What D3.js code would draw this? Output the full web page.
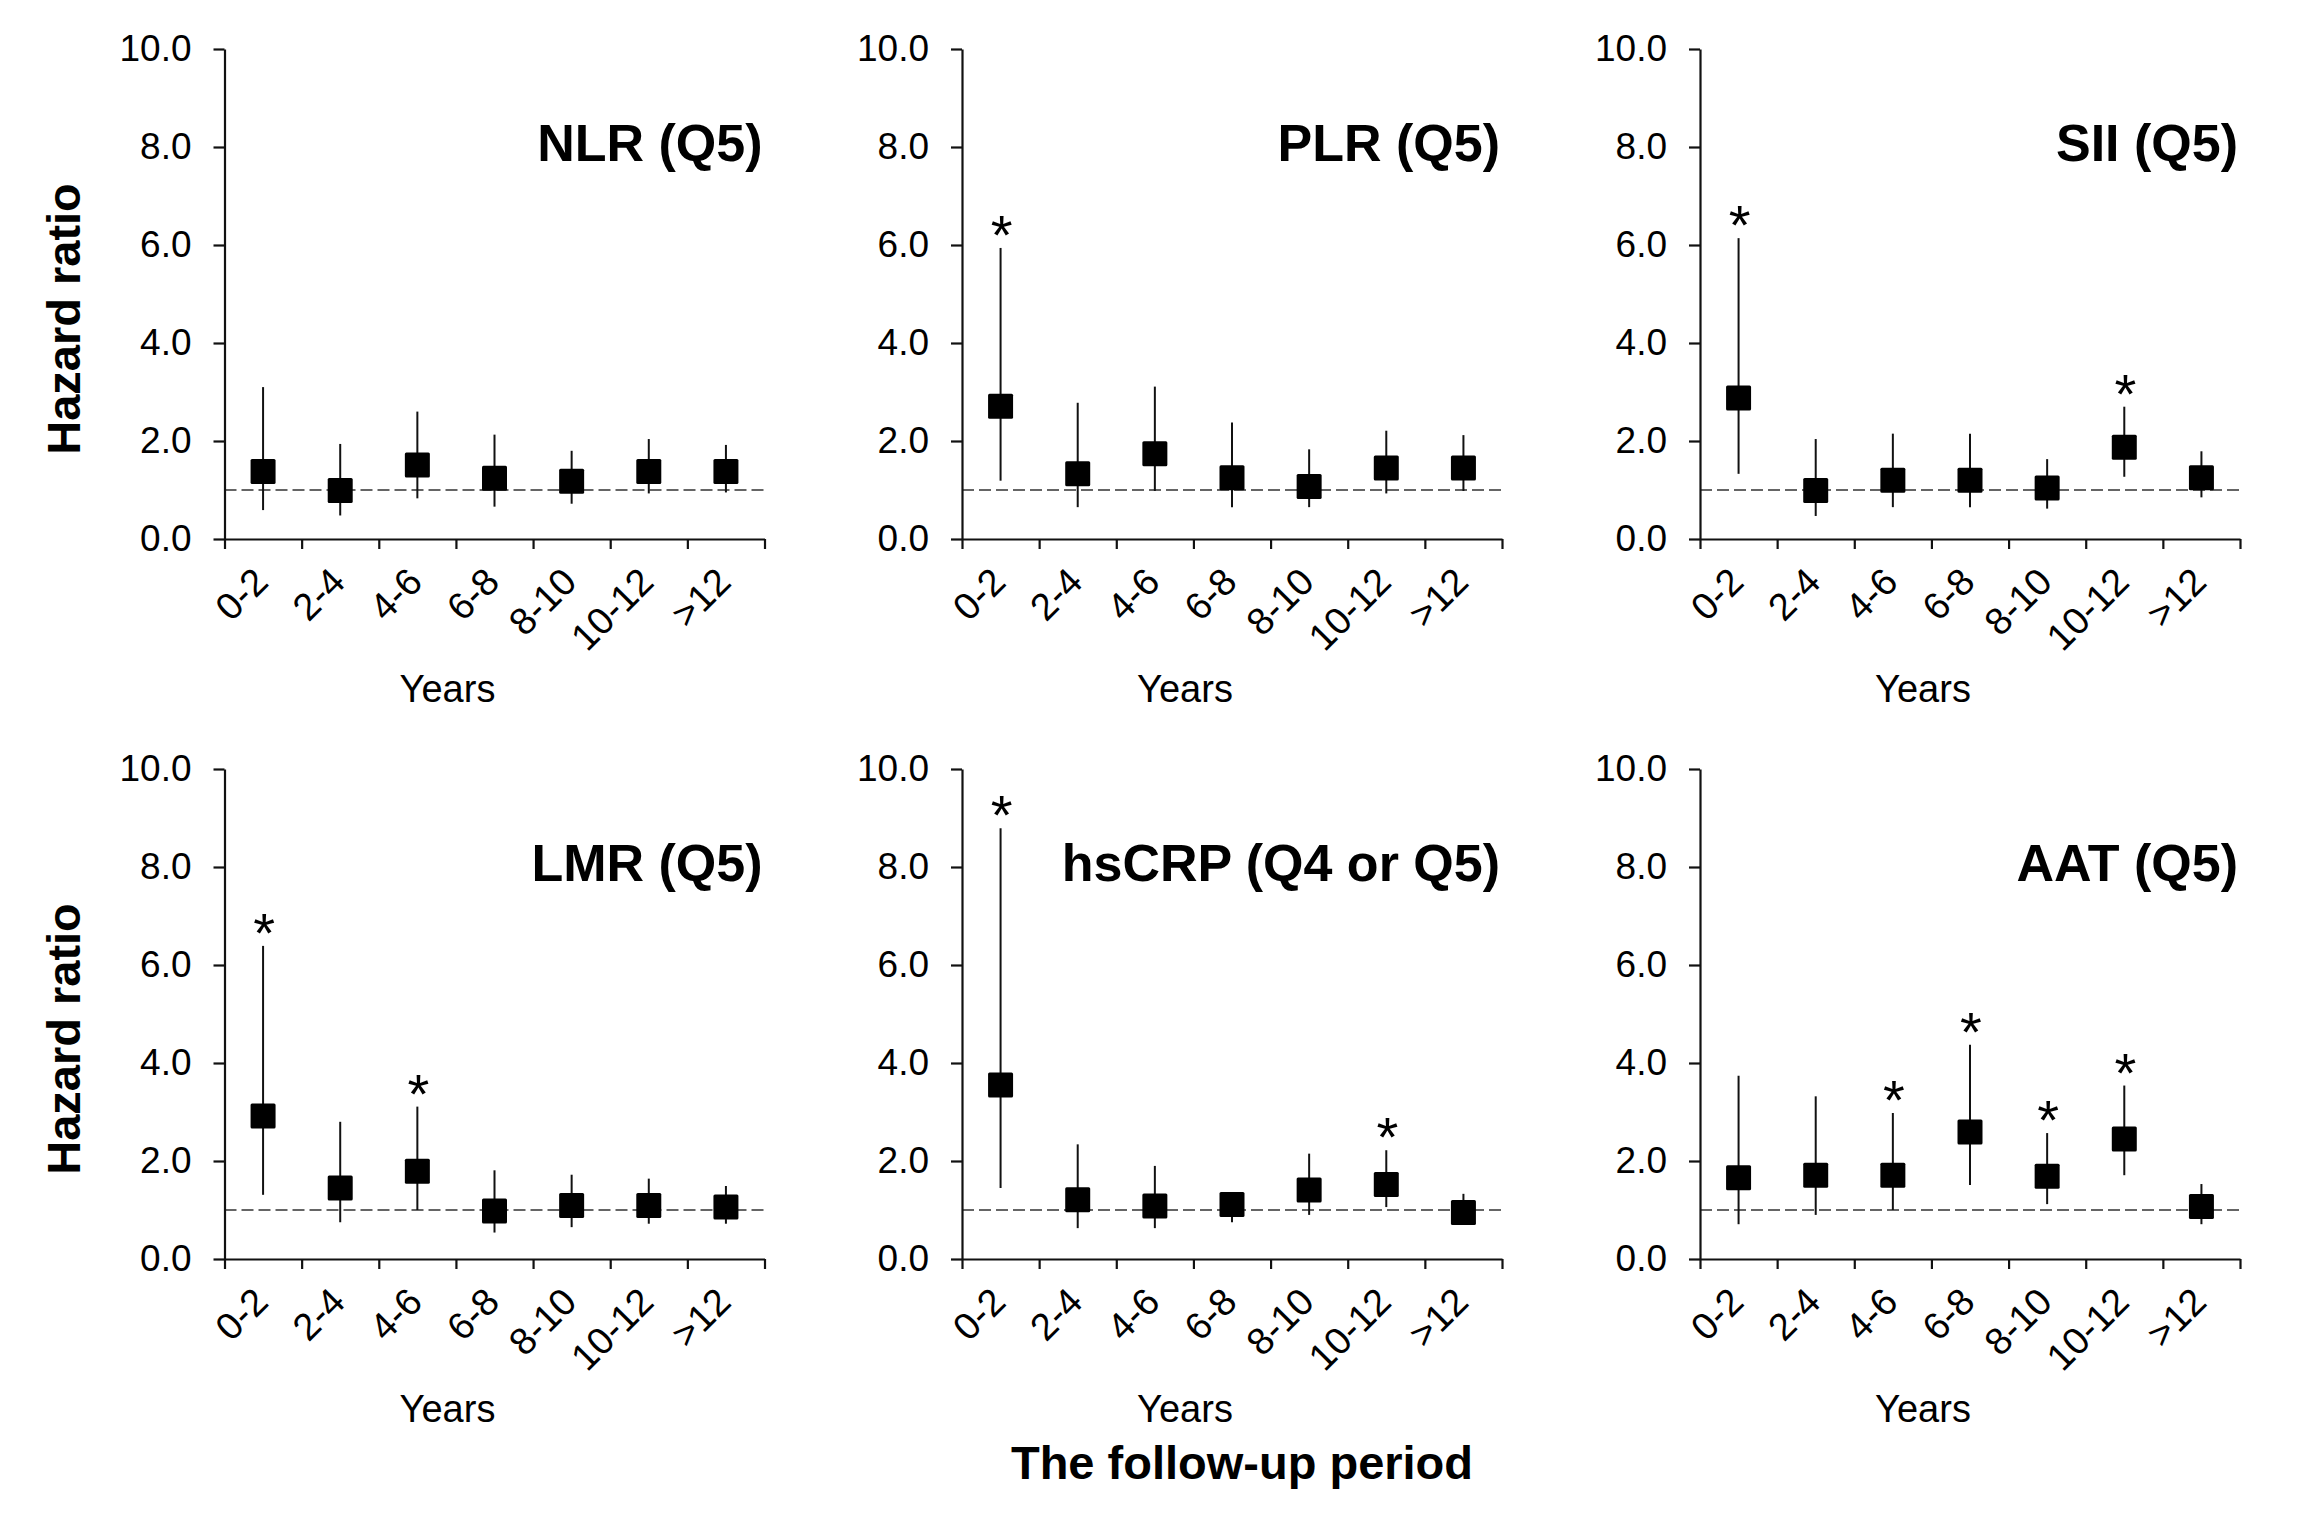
<!DOCTYPE html>
<html>
<head>
<meta charset="utf-8">
<script src="https://cdn.jsdelivr.net/npm/d3@7"></script>
<style>
  html, body { margin: 0; padding: 0; background: #fff; }
  svg { display: block; }
</style>
</head>
<body>
<div id="chart"></div>
<script>
// Hazard ratios by follow-up period, one panel per marker
const years = ["0-2", "2-4", "4-6", "6-8", "8-10", "10-12", ">12"];
const yTicks = [0, 2, 4, 6, 8, 10];

const panelTitles = ["NLR (Q5)", "PLR (Q5)", "SII (Q5)", "LMR (Q5)", "hsCRP (Q4 or Q5)", "AAT (Q5)"];

const nlrHR    = [1.38, 0.99, 1.51, 1.24, 1.18, 1.38, 1.38];
const nlrLow   = [0.59, 0.48, 0.83, 0.66, 0.72, 0.93, 0.95];
const nlrHigh  = [3.10, 1.94, 2.60, 2.13, 1.80, 2.04, 1.92];
const nlrSig   = [0, 0, 0, 0, 0, 0, 0];

const plrHR    = [2.71, 1.33, 1.74, 1.25, 1.07, 1.45, 1.45];
const plrLow   = [1.19, 0.65, 0.98, 0.65, 0.65, 0.93, 0.98];
const plrHigh  = [5.94, 2.78, 3.11, 2.38, 1.83, 2.21, 2.12];
const plrSig   = [1, 0, 0, 0, 0, 0, 0];

const siiHR    = [2.88, 0.99, 1.20, 1.20, 1.04, 1.87, 1.25];
const siiLow   = [1.33, 0.47, 0.65, 0.65, 0.62, 1.27, 0.85];
const siiHigh  = [6.14, 2.04, 2.15, 2.15, 1.63, 2.70, 1.79];
const siiSig   = [1, 0, 0, 0, 0, 1, 0];

const lmrHR    = [2.92, 1.45, 1.79, 0.98, 1.09, 1.09, 1.06];
const lmrLow   = [1.31, 0.75, 1.00, 0.54, 0.65, 0.72, 0.72];
const lmrHigh  = [6.39, 2.80, 3.11, 1.81, 1.72, 1.64, 1.49];
const lmrSig   = [1, 0, 1, 0, 0, 0, 0];

const crpHR    = [3.55, 1.21, 1.08, 1.11, 1.41, 1.52, 0.95];
const crpLow   = [1.45, 0.63, 0.63, 0.75, 0.90, 1.06, 0.70];
const crpHigh  = [8.79, 2.34, 1.90, 1.30, 2.15, 2.22, 1.33];
const crpSig   = [1, 0, 0, 0, 0, 1, 0];

const aatHR    = [1.66, 1.71, 1.71, 2.59, 1.69, 2.45, 1.07];
const aatLow   = [0.71, 0.90, 1.00, 1.51, 1.12, 1.71, 0.71];
const aatHigh  = [3.74, 3.32, 2.98, 4.37, 2.57, 3.54, 1.53];
const aatSig   = [0, 0, 1, 1, 1, 1, 0];

const panelData = [
    [nlrHR, nlrLow, nlrHigh, nlrSig],
    [plrHR, plrLow, plrHigh, plrSig],
    [siiHR, siiLow, siiHigh, siiSig],
    [lmrHR, lmrLow, lmrHigh, lmrSig],
    [crpHR, crpLow, crpHigh, crpSig],
    [aatHR, aatLow, aatHigh, aatSig]
];

const W = 2308, H = 1519;
const FONT = "'Liberation Sans', Arial, Helvetica, sans-serif";
const colX = [224.5, 962, 1700];
const rowY = [49, 769];
const plotW = 540, plotH = 490;
const ink = "#111";

const svg = d3.select("#chart").append("svg")
    .attr("width", W)
    .attr("height", H)
    .attr("viewBox", `0 0 ${W} ${H}`);

svg.append("rect").attr("width", W).attr("height", H).attr("fill", "#fff");

panelData.forEach((d, i) => {
    const [hr, lo, hi, sig] = d;
    const col = i % 3, row = Math.floor(i / 3);
    const g = svg.append("g")
        .attr("transform", `translate(${colX[col]},${rowY[row]})`);

    const x = d3.scaleBand().domain(years).range([0, plotW]).padding(0);
    const xEdge = d3.scaleLinear().domain([0, years.length]).range([0, plotW]);
    const y = d3.scaleLinear().domain([0, 10]).range([plotH, 0]);

    // reference line at HR = 1
    g.append("line")
        .attr("x1", 0).attr("x2", plotW)
        .attr("y1", y(1)).attr("y2", y(1))
        .attr("stroke", "#333")
        .attr("stroke-width", 1.6)
        .attr("stroke-dasharray", "12,5");

    // y axis
    const yAxis = g.append("g")
        .call(d3.axisLeft(y).tickValues(yTicks).tickFormat(d3.format(".1f"))
            .tickSize(11).tickSizeOuter(0).tickPadding(22));
    yAxis.select(".domain").attr("stroke", ink).attr("stroke-width", 2.2);
    yAxis.selectAll(".tick line").attr("stroke", ink).attr("stroke-width", 2.2);
    yAxis.selectAll(".tick text")
        .attr("font-family", FONT)
        .attr("font-size", 37)
        .attr("fill", "#000");

    // x axis: ticks at period boundaries
    const xAxis = g.append("g")
        .attr("transform", `translate(0,${plotH})`)
        .call(d3.axisBottom(xEdge).ticks(years.length).tickFormat("")
            .tickSize(10).tickSizeOuter(0));
    xAxis.select(".domain").attr("stroke", ink).attr("stroke-width", 2.2);
    xAxis.selectAll(".tick line").attr("stroke", ink).attr("stroke-width", 2.2);

    // rotated period labels
    g.selectAll(".xlab")
        .data(years)
        .enter().append("text")
        .attr("class", "xlab")
        .attr("transform", c => `translate(${x(c) + x.bandwidth() / 2 + 7},${plotH + 45}) rotate(-45)`)
        .attr("text-anchor", "end")
        .attr("font-family", FONT)
        .attr("font-size", 38)
        .attr("fill", "#000")
        .text(c => c);

    // "Years" axis title
    g.append("text")
        .attr("x", plotW / 2 - 47)
        .attr("y", plotH + 163)
        .attr("text-anchor", "middle")
        .attr("font-family", FONT)
        .attr("font-size", 38)
        .attr("fill", "#000")
        .text("Years");

    // confidence interval whiskers
    g.selectAll(".ci")
        .data(years)
        .enter().append("line")
        .attr("class", "ci")
        .attr("x1", c => x(c) + x.bandwidth() / 2)
        .attr("x2", c => x(c) + x.bandwidth() / 2)
        .attr("y1", (c, k) => y(lo[k]))
        .attr("y2", (c, k) => y(hi[k]))
        .attr("stroke", ink)
        .attr("stroke-width", 2);

    // point estimates
    const s = 25;
    g.selectAll(".pt")
        .data(years)
        .enter().append("rect")
        .attr("class", "pt")
        .attr("x", c => x(c) + x.bandwidth() / 2 - s / 2)
        .attr("y", (c, k) => y(hr[k]) - s / 2)
        .attr("width", s)
        .attr("height", s)
        .attr("rx", 1.5)
        .attr("fill", "#000");

    // significance stars
    g.selectAll(".star")
        .data(years.filter((c, k) => sig[k]))
        .enter().append("text")
        .attr("class", "star")
        .attr("x", c => x(c) + x.bandwidth() / 2 + 1)
        .attr("y", c => y(hi[years.indexOf(c)]) + 6)
        .attr("text-anchor", "middle")
        .attr("font-family", FONT)
        .attr("font-size", 56)
        .attr("fill", "#000")
        .text("*");

    // panel title
    g.append("text")
        .attr("x", plotW - 2)
        .attr("y", 112)
        .attr("text-anchor", "end")
        .attr("font-family", FONT)
        .attr("font-weight", "700")
        .attr("font-size", 52)
        .attr("fill", "#000")
        .text(panelTitles[i]);

    // y axis title on the left column
    if (col === 0) {
        g.append("text")
            .attr("transform", `translate(${80 - colX[0]},${270}) rotate(-90)`)
            .attr("text-anchor", "middle")
            .attr("font-family", FONT)
            .attr("font-weight", "700")
            .attr("font-size", 47)
            .attr("fill", "#000")
            .text("Hazard ratio");
    }
});

// shared x title
svg.append("text")
    .attr("x", 1242)
    .attr("y", 1479)
    .attr("text-anchor", "middle")
    .attr("font-family", FONT)
    .attr("font-weight", "700")
    .attr("font-size", 47)
    .attr("fill", "#000")
    .text("The follow-up period");
</script>
</body>
</html>
